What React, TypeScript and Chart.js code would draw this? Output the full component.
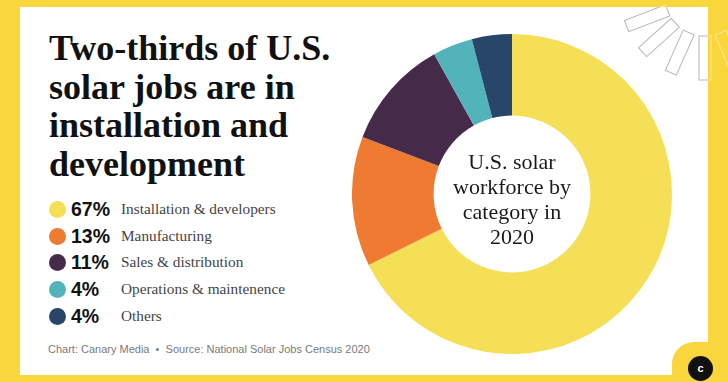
import React, { useEffect, useRef } from "react";
import { Chart, registerables } from "chart.js";

Chart.register(...registerables);

const categories = [
  "Installation & developers",
  "Manufacturing",
  "Sales & distribution",
  "Operations & maintenence",
  "Others",
];
const shares = [67, 13, 11, 4, 4];
const shareLabels = ["67%", "13%", "11%", "4%", "4%"];
const colors = ["#F5DF57", "#EE7B31", "#462A4A", "#52B3BA", "#27466A"];
const titleLines = ["Two-thirds of U.S.", "solar jobs are in", "installation and", "development"];
const centerLines = ["U.S. solar", "workforce by", "category in", "2020"];
const footer = "Chart: Canary Media  \u2022  Source: National Solar Jobs Census 2020";

const rayAngles = [44, 67, 90, 114, 138, 159];

export default function App() {
  const canvasRef = useRef<HTMLCanvasElement | null>(null);

  useEffect(() => {
    document.body.style.margin = "0";
    const ctx = canvasRef.current;
    if (!ctx) return;
    const chart = new Chart(ctx, {
      type: "doughnut",
      data: {
        labels: categories,
        datasets: [
          {
            data: shares,
            backgroundColor: colors,
            borderWidth: 0,
          },
        ],
      },
      options: {
        animation: false,
        responsive: true,
        maintainAspectRatio: false,
        cutout: "49%",
        layout: { padding: 0 },
        plugins: {
          legend: { display: false },
          tooltip: { enabled: false },
        },
      },
    });
    return () => chart.destroy();
  }, []);

  const rowCenters = [209, 236, 262, 289, 316];

  const rays = (stroke: string) =>
    rayAngles.map((a, i) => (
      <rect
        key={i}
        x={40}
        y={-6}
        width={44}
        height={12}
        fill="none"
        stroke={stroke}
        strokeWidth={1}
        transform={`translate(705,-4) rotate(${a})`}
      />
    ));

  return (
    <div
      style={{
        position: "fixed",
        left: 0,
        top: 0,
        width: 728,
        height: 382,
        background: "#F8D63C",
        overflow: "hidden",
      }}
    >
      <div
        style={{
          position: "absolute",
          left: 20,
          top: 7,
          width: 688,
          height: 368,
          background: "#FFFFFF",
        }}
      />
      {/* bottom-right notch */}
      <div
        style={{
          position: "absolute",
          left: 672,
          top: 342,
          width: 60,
          height: 50,
          background: "#F8D63C",
          borderTopLeftRadius: 22,
        }}
      />
      {/* sun rays */}
      <svg
        width={728}
        height={382}
        style={{ position: "absolute", left: 0, top: 0 }}
      >
        <defs>
          <clipPath id="whiteArea">
            <rect x={20} y={7} width={688} height={368} />
          </clipPath>
          <clipPath id="yellowArea">
            <path d="M0 0 H728 V382 H0 Z M20 7 V375 H708 V7 Z" clipRule="evenodd" />
          </clipPath>
        </defs>
        <g clipPath="url(#whiteArea)">{rays("rgba(110,110,110,0.5)")}</g>
        <g clipPath="url(#yellowArea)">{rays("rgba(255,250,220,0.55)")}</g>
      </svg>
      {/* title */}
      <div
        style={{
          position: "absolute",
          left: 49,
          top: 29,
          fontFamily: "'Liberation Serif', serif",
          fontWeight: 700,
          fontSize: 36,
          lineHeight: "38.5px",
          color: "#111111",
          whiteSpace: "nowrap",
        }}
      >
        {titleLines.map((t, i) => (
          <div key={i}>{t}</div>
        ))}
      </div>
      {/* legend */}
      {categories.map((c, i) => (
        <div key={c}>
          <div
            style={{
              position: "absolute",
              left: 48.5,
              top: rowCenters[i] - 8.5,
              width: 17,
              height: 17,
              borderRadius: "50%",
              background: colors[i],
            }}
          />
          <div
            style={{
              position: "absolute",
              left: 71,
              top: rowCenters[i] - 12,
              height: 24,
              lineHeight: "24px",
              fontFamily: "'Liberation Sans', Arial, sans-serif",
              fontWeight: 700,
              fontSize: 19.5,
              color: "#111111",
              whiteSpace: "nowrap",
            }}
          >
            {shareLabels[i]}
          </div>
          <div
            style={{
              position: "absolute",
              left: 121,
              top: rowCenters[i] - 11,
              height: 22,
              lineHeight: "22px",
              fontFamily: "'Liberation Serif', serif",
              fontSize: 15.3,
              color: "#444444",
              whiteSpace: "nowrap",
            }}
          >
            {c}
          </div>
        </div>
      ))}
      {/* footer */}
      <div
        style={{
          position: "absolute",
          left: 48,
          top: 341,
          lineHeight: "16px",
          fontFamily: "'Liberation Sans', Arial, sans-serif",
          fontSize: 11,
          color: "#7a7a7a",
          whiteSpace: "pre",
        }}
      >
        {footer}
      </div>
      {/* chart */}
      <div
        style={{
          position: "absolute",
          left: 352,
          top: 34,
          width: 320,
          height: 320,
        }}
      >
        <canvas ref={canvasRef} />
      </div>
      {/* center label */}
      <div
        style={{
          position: "absolute",
          left: 412,
          top: 149,
          width: 200,
          textAlign: "center",
          fontFamily: "'Liberation Serif', serif",
          fontSize: 22,
          lineHeight: "25px",
          color: "#1a1a1a",
        }}
      >
        {centerLines.map((t, i) => (
          <div key={i}>{t}</div>
        ))}
      </div>
      {/* logo */}
      <div
        style={{
          position: "absolute",
          left: 688,
          top: 356,
          width: 25,
          height: 25,
          borderRadius: "50%",
          background: "#111111",
          color: "#ffffff",
          fontFamily: "'Liberation Sans', Arial, sans-serif",
          fontWeight: 700,
          fontSize: 11,
          lineHeight: "25px",
          textAlign: "center",
        }}
      >
        c
      </div>
    </div>
  );
}
